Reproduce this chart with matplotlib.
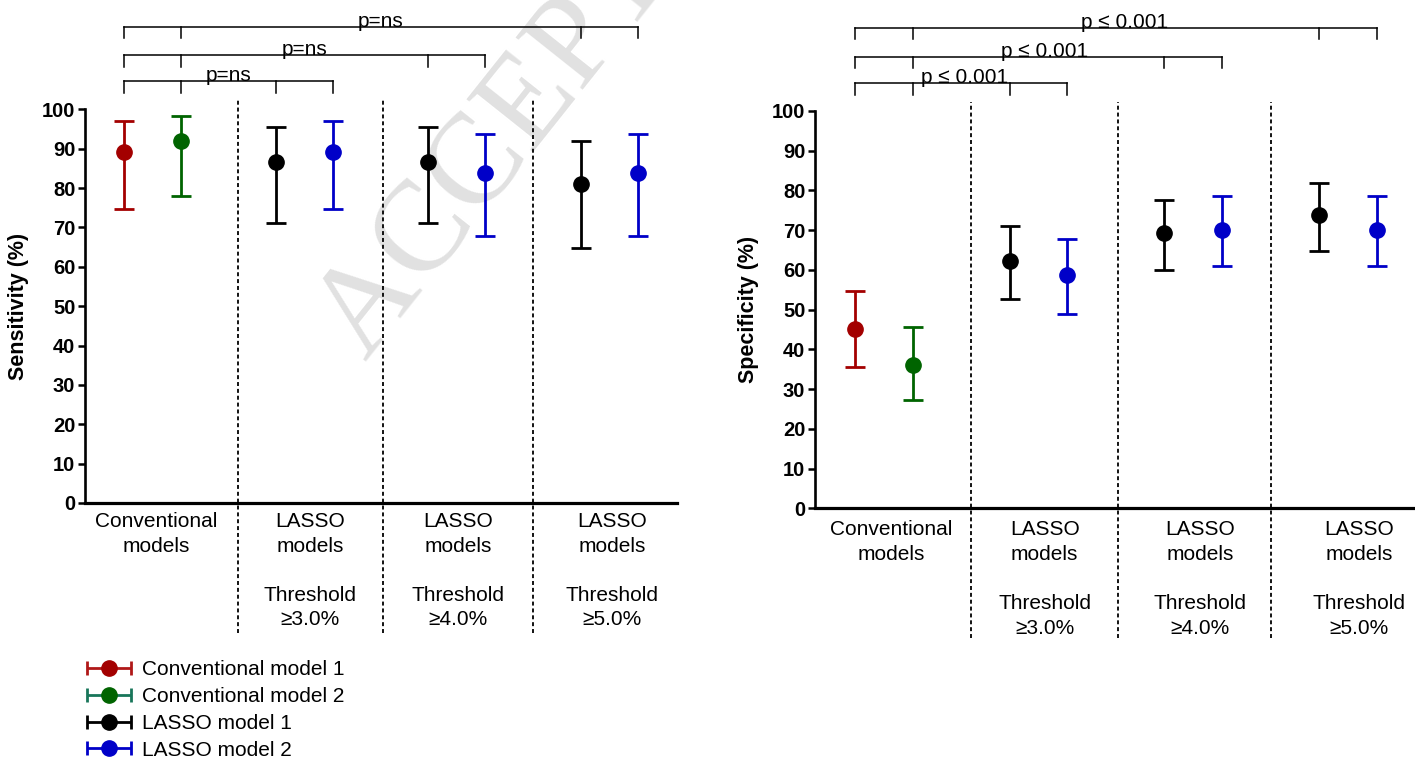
import matplotlib
matplotlib.use("Agg")
import matplotlib.pyplot as plt
from matplotlib.lines import Line2D
from matplotlib.collections import LineCollection
from matplotlib.container import ErrorbarContainer
from matplotlib.legend_handler import HandlerErrorbar

plt.rcParams["font.family"] = ["Liberation Sans", "DejaVu Sans"]

MODELS = ["Conventional model 1", "Conventional model 2", "LASSO model 1", "LASSO model 2"]
MODEL_COLORS = ["#a30000", "#006400", "#000000", "#0000c8"]
LEGEND_BAR_COLORS = ["#b01818", "#18765a", "#000000", "#0000c8"]

GROUP_LABELS = [
    "Conventional\nmodels",
    "LASSO\nmodels\n\nThreshold\n≥3.0%",
    "LASSO\nmodels\n\nThreshold\n≥4.0%",
    "LASSO\nmodels\n\nThreshold\n≥5.0%",
]
# model index of the two points drawn in each group
GROUP_MODELS = [(0, 1), (2, 3), (2, 3), (2, 3)]

# sensitivity (%) with 95% CI, two points per group
SENS_MEAN = [89.2, 91.9, 86.5, 89.2, 86.5, 83.8, 81.1, 83.8]
SENS_LOW = [74.6, 78.1, 71.1, 74.6, 71.1, 67.9, 64.8, 67.9]
SENS_HIGH = [97.0, 98.3, 95.5, 97.0, 95.5, 93.8, 92.0, 93.8]

# specificity (%) with 95% CI
SPEC_MEAN = [45.1, 36.0, 62.2, 58.6, 69.3, 70.1, 73.8, 70.1]
SPEC_LOW = [35.6, 27.2, 52.6, 48.8, 59.9, 60.9, 64.7, 60.9]
SPEC_HIGH = [54.8, 45.7, 71.0, 67.8, 77.7, 78.5, 81.8, 78.5]

# conventional models vs. each LASSO threshold group
SENS_P = ["p=ns", "p=ns", "p=ns"]
SPEC_P = ["p ≤ 0.001", "p ≤ 0.001", "p ≤ 0.001"]

OFFSET = 0.187
SEPARATORS = [0.564, 1.513, 2.5]
BRACKET_TOPS = [107.1, 113.7, 121.0]
BRACKET_DROP = 3.0


def point_positions():
    return [g + s * OFFSET for g in range(len(GROUP_LABELS)) for s in (-1, 1)]


def draw_panel(ax, means, lows, highs, ylabel, p_labels, xlim, label_x,
               label_pad, sep_span, p_shift=0):
    xs = point_positions()
    i = 0
    for g, pair in enumerate(GROUP_MODELS):
        for m in pair:
            c = MODEL_COLORS[m]
            ax.errorbar([xs[i]], [means[i]],
                        yerr=[[means[i] - lows[i]], [highs[i] - means[i]]],
                        fmt="o", color=c, ms=11, elinewidth=2, capsize=7,
                        capthick=2, clip_on=False, zorder=3)
            i += 1

    # dotted separators between model groups
    for s in SEPARATORS:
        ax.plot([s, s], sep_span, color="black", lw=1.3,
                ls=(0, (2.2, 1.6)), clip_on=False, zorder=2)

    # comparison brackets: conventional pair vs. each LASSO pair
    for k, label in enumerate(p_labels):
        top = BRACKET_TOPS[k]
        g = k + 1
        ticks = [xs[0], xs[1], xs[2 * g], xs[2 * g + 1]]
        ax.plot([ticks[0], ticks[-1]], [top, top], color="black", lw=1.1,
                clip_on=False)
        for t in ticks:
            ax.plot([t, t], [top, top - BRACKET_DROP], color="black", lw=1.1,
                    clip_on=False)
        ax.annotate(label, xy=((ticks[0] + ticks[-1]) / 2, top),
                    xytext=(p_shift * (k + 1), 0), textcoords="offset pixels",
                    ha="center", va="baseline", fontsize=15,
                    annotation_clip=False)

    for x, text in zip(label_x, GROUP_LABELS):
        ax.annotate(text, xy=(x, 0), xytext=(0, -label_pad),
                    textcoords="offset pixels", ha="center", va="top",
                    fontsize=15, linespacing=1.37, annotation_clip=False)

    ax.set_xlim(*xlim)
    ax.set_ylim(0, 100)
    ax.set_yticks(range(0, 101, 10))
    ax.set_xticks([])
    for lab in ax.get_yticklabels():
        lab.set_fontweight("bold")
        lab.set_fontsize(14.5)
    ax.tick_params(axis="y", direction="out", length=5, width=1.8, pad=2)
    for spine in ("top", "right"):
        ax.spines[spine].set_visible(False)
    ax.spines["left"].set_linewidth(1.9)
    ax.spines["bottom"].set_linewidth(2.3)
    ax.set_ylabel(ylabel, fontsize=15.5, fontweight="bold")
    ax.yaxis.set_label_coords(-0.094, 0.5)
    ax.patch.set_alpha(0)


fig = plt.figure(figsize=(14.15, 7.61), dpi=100)
fig.patch.set_facecolor("white")

fig.text(366 / 1415, 1 - 362 / 761, "ACCEPTED MANUSCRIPT", rotation=51.5,
         rotation_mode="anchor", ha="left", va="baseline", fontsize=93,
         family="Liberation Serif", color="#e1e1e1", zorder=-1)

ax_sens = fig.add_axes([85 / 1415, 1 - 503 / 761, 591.5 / 1415, 393.7 / 761])
draw_panel(ax_sens, SENS_MEAN, SENS_LOW, SENS_HIGH, "Sensitivity (%)", SENS_P,
           (-0.443, 3.442), [0.026, 1.038, 2.008, 3.017], 9, [-33.0, 102.5])

ax_spec = fig.add_axes([815 / 1415, 1 - 508.3 / 761, 600 / 1415, 397.3 / 761])
draw_panel(ax_spec, SPEC_MEAN, SPEC_LOW, SPEC_HIGH, "Specificity (%)", SPEC_P,
           (-0.444, 3.432), [0.046, 1.04, 2.045, 3.07], 12, [-32.7, 102.3],
           p_shift=3)


def legend_handle(color, bar_color):
    point = Line2D([], [], ls="none", marker="o", ms=11, color=color)
    cap = Line2D([], [], ls="none", marker="|", ms=10, mew=2, color=bar_color)
    bars = LineCollection([], colors=bar_color, linewidths=2)
    return ErrorbarContainer((point, (cap,), (bars,)), has_xerr=True, has_yerr=False)


handles = [legend_handle(c, b) for c, b in zip(MODEL_COLORS, LEGEND_BAR_COLORS)]
fig.legend(handles, MODELS, loc="upper left", bbox_to_anchor=(86 / 1415, 1 - 660 / 761),
           frameon=False, fontsize=15, handlelength=2.2, handletextpad=0.5,
           labelspacing=0.38, borderpad=0, borderaxespad=0,
           handler_map={ErrorbarContainer: HandlerErrorbar(xerr_size=1.05)})

fig.savefig("out.png", dpi=100, facecolor="white")
